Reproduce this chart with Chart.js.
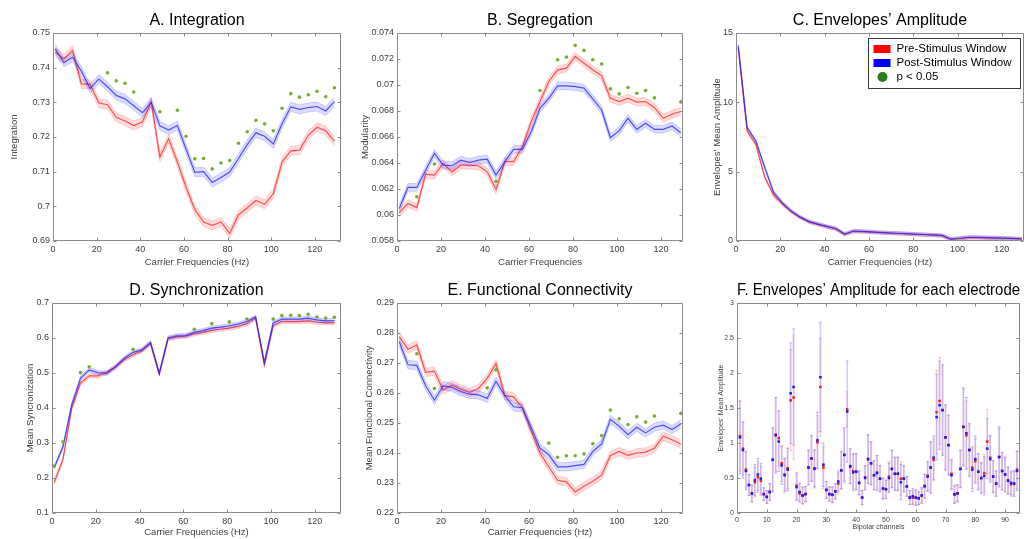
<!DOCTYPE html>
<html>
<head>
<meta charset="utf-8">
<script src="https://cdn.jsdelivr.net/npm/chart.js@4.4.1/dist/chart.umd.min.js"></script>
<style>
html, body { margin: 0; padding: 0; background: #fff; }
body { width: 1026px; height: 539px; position: relative; overflow: hidden; }
canvas { position: absolute; }
</style>
</head>
<body>
<script>
// carrier frequencies (Hz)
const freqs = [1, 5, 9, 13, 17, 21, 25, 29, 33, 37, 41, 45, 49, 53, 57, 61, 65, 69, 73, 77, 81, 85, 89, 93, 97, 101, 105, 109, 113, 117, 121, 125, 129];

// A. Integration
const intPost = [0.7454, 0.7415, 0.7430, 0.7390, 0.7340, 0.7367, 0.7345, 0.7320, 0.7310, 0.7290, 0.7270, 0.7300, 0.7232, 0.7220, 0.7233, 0.7165, 0.7098, 0.7100, 0.7069, 0.7083, 0.7099, 0.7138, 0.7178, 0.7212, 0.7202, 0.7180, 0.7238, 0.7287, 0.7280, 0.7285, 0.7288, 0.7275, 0.7302];
const intPre = [0.7445, 0.7425, 0.7450, 0.7353, 0.7352, 0.7298, 0.7293, 0.7257, 0.7246, 0.7233, 0.7243, 0.7302, 0.7142, 0.7195, 0.7128, 0.7055, 0.6990, 0.6955, 0.6945, 0.6955, 0.6922, 0.6975, 0.6995, 0.7017, 0.7006, 0.7037, 0.7128, 0.7160, 0.7162, 0.7205, 0.7228, 0.7218, 0.7188];
const intErr = 0.0013;
const intSigF = [25, 29, 33, 37, 49, 57, 61, 65, 69, 73, 77, 81, 85, 89, 93, 97, 101, 105, 109, 113, 117, 121, 125, 129];
const intSigV = [0.7385, 0.7362, 0.7355, 0.7330, 0.7273, 0.7277, 0.7202, 0.7137, 0.7138, 0.7108, 0.7125, 0.7132, 0.7182, 0.7215, 0.7248, 0.7238, 0.7218, 0.7283, 0.7325, 0.7315, 0.7322, 0.7332, 0.7316, 0.7342];

// B. Segregation
const segPost = [0.0605, 0.06212, 0.06212, 0.06345, 0.06474, 0.06384, 0.06379, 0.06422, 0.06404, 0.06422, 0.0643, 0.06307, 0.0641, 0.06505, 0.06505, 0.06641, 0.06821, 0.06898, 0.06994, 0.06994, 0.06988, 0.06976, 0.06893, 0.06808, 0.06595, 0.06649, 0.06744, 0.06659, 0.06705, 0.06659, 0.06659, 0.06685, 0.06633];
const segPre = [0.06016, 0.06088, 0.06057, 0.06314, 0.06307, 0.06397, 0.06332, 0.06384, 0.06384, 0.06379, 0.06332, 0.06196, 0.0641, 0.0641, 0.06525, 0.06718, 0.06873, 0.07027, 0.07117, 0.0713, 0.0722, 0.07168, 0.07117, 0.07071, 0.06898, 0.06873, 0.06898, 0.06868, 0.06873, 0.06827, 0.06744, 0.06775, 0.06796];
const segErr = 0.0003;
const segSigF = [9, 17, 45, 65, 73, 77, 81, 85, 89, 93, 97, 101, 105, 109, 113, 117, 129];
const segSigV = [0.0614, 0.06392, 0.0626, 0.06958, 0.07194, 0.07215, 0.07305, 0.07266, 0.07194, 0.07161, 0.0697, 0.06932, 0.06981, 0.06937, 0.06958, 0.06901, 0.0687];

// C. Envelopes' amplitude
const ampPost = [14.1, 8.2, 7.2, 5.3, 3.5, 2.75, 2.15, 1.72, 1.4, 1.22, 1.05, 0.9, 0.5, 0.72, 0.7, 0.66, 0.62, 0.59, 0.56, 0.53, 0.5, 0.47, 0.44, 0.4, 0.14, 0.2, 0.27, 0.26, 0.25, 0.23, 0.21, 0.19, 0.15];
const ampPre = [13.9, 7.95, 6.95, 4.6, 3.3, 2.65, 2.1, 1.7, 1.38, 1.2, 1.03, 0.88, 0.48, 0.7, 0.68, 0.64, 0.6, 0.57, 0.54, 0.51, 0.48, 0.45, 0.42, 0.38, 0.12, 0.18, 0.25, 0.24, 0.23, 0.21, 0.19, 0.17, 0.13];
const ampErr = 0.12;

// D. Synchronization
const synPost = [0.229, 0.289, 0.409, 0.485, 0.509, 0.501, 0.499, 0.518, 0.542, 0.559, 0.566, 0.587, 0.499, 0.6, 0.606, 0.607, 0.616, 0.621, 0.628, 0.631, 0.635, 0.64, 0.647, 0.66, 0.53, 0.643, 0.654, 0.654, 0.654, 0.657, 0.652, 0.649, 0.65];
const synPre = [0.187, 0.253, 0.399, 0.471, 0.492, 0.492, 0.502, 0.517, 0.538, 0.552, 0.563, 0.585, 0.497, 0.598, 0.603, 0.605, 0.612, 0.616, 0.622, 0.625, 0.628, 0.633, 0.641, 0.657, 0.523, 0.635, 0.647, 0.647, 0.647, 0.649, 0.645, 0.643, 0.643];
const synErr = 0.006;
const synSigF = [1, 5, 13, 17, 37, 65, 73, 81, 89, 101, 105, 109, 113, 117, 121, 125, 129];
const synSigV = [0.234, 0.303, 0.501, 0.518, 0.568, 0.625, 0.641, 0.646, 0.654, 0.654, 0.664, 0.665, 0.664, 0.668, 0.660, 0.657, 0.659];

// E. Functional connectivity
const fcPost = [0.2771, 0.2694, 0.2692, 0.2624, 0.2576, 0.2624, 0.2619, 0.2605, 0.2596, 0.2594, 0.2582, 0.2639, 0.2591, 0.2554, 0.2551, 0.2484, 0.2416, 0.2394, 0.2354, 0.2354, 0.2358, 0.2362, 0.2405, 0.243, 0.2512, 0.2489, 0.2461, 0.2486, 0.2467, 0.2486, 0.2493, 0.2478, 0.2497];
const fcPre = [0.2788, 0.2746, 0.276, 0.2669, 0.2673, 0.261, 0.2627, 0.2613, 0.2602, 0.2615, 0.2649, 0.2698, 0.2591, 0.2587, 0.2551, 0.2473, 0.24, 0.2354, 0.2309, 0.2304, 0.227, 0.2289, 0.2306, 0.2326, 0.2392, 0.2405, 0.2392, 0.24, 0.2403, 0.2416, 0.2456, 0.2444, 0.243];
const fcErr = 0.0014;
const fcSigF = [9, 17, 41, 45, 69, 73, 77, 81, 85, 89, 93, 97, 101, 105, 109, 113, 117, 129];
const fcSigV = [0.2731, 0.2615, 0.2617, 0.2677, 0.2433, 0.2386, 0.2391, 0.2391, 0.2397, 0.2431, 0.2458, 0.2543, 0.2514, 0.2495, 0.2521, 0.2503, 0.2523, 0.2532];

// F. per electrode (bipolar channels 1..94)
const channels = Array.from({length: 94}, (_, i) => i + 1);
const fPost = [1.08, 0.90, 0.60, 0.40, 0.28, 0.47, 0.55, 0.49, 0.27, 0.23,
  0.30, 0.76, 1.11, 1.02, 0.68, 0.54, 0.62, 1.71, 1.80, 0.37,
  0.30, 0.25, 0.27, 0.65, 0.78, 0.63, 1.04, 1.94, 0.69, 0.33,
  0.27, 0.26, 0.31, 0.45, 0.61, 0.83, 1.45, 0.67, 0.58, 0.59,
  0.43, 0.22, 0.50, 0.77, 0.71, 0.54, 0.57, 0.49, 0.35, 0.34,
  0.50, 0.63, 0.56, 0.56, 0.44, 0.49, 0.38, 0.22, 0.24, 0.22,
  0.21, 0.25, 0.38, 0.52, 0.65, 0.79, 1.37, 1.54, 1.47, 1.08,
  0.97, 0.54, 0.27, 0.28, 0.63, 1.23, 1.14, 0.90, 0.62, 0.77,
  0.59, 0.50, 0.53, 0.92, 0.77, 0.52, 0.42, 0.80, 0.60, 0.55,
  0.46, 0.43, 0.42, 0.60];
const fPre = [1.10, 0.92, 0.62, 0.40, 0.28, 0.44, 0.51, 0.46, 0.27, 0.23,
  0.30, 0.76, 1.12, 1.07, 0.71, 0.55, 0.64, 1.61, 1.65, 0.39,
  0.28, 0.25, 0.27, 0.65, 0.78, 0.64, 1.01, 1.80, 0.65, 0.33,
  0.27, 0.26, 0.31, 0.42, 0.61, 0.83, 1.48, 0.66, 0.60, 0.59,
  0.43, 0.22, 0.51, 0.77, 0.71, 0.54, 0.58, 0.49, 0.35, 0.34,
  0.52, 0.63, 0.56, 0.56, 0.49, 0.49, 0.38, 0.22, 0.22, 0.22,
  0.21, 0.25, 0.39, 0.53, 0.65, 0.76, 1.44, 1.60, 1.47, 1.08,
  0.97, 0.56, 0.26, 0.28, 0.63, 1.23, 1.11, 0.90, 0.65, 0.74,
  0.59, 0.50, 0.57, 1.02, 0.79, 0.52, 0.42, 0.80, 0.60, 0.55,
  0.47, 0.41, 0.42, 0.62];
const fPostErr = [0.52, 0.40, 0.27, 0.15, 0.12, 0.22, 0.23, 0.22, 0.09, 0.09,
  0.12, 0.46, 0.54, 0.43, 0.27, 0.24, 0.30, 0.72, 0.83, 0.19,
  0.13, 0.12, 0.11, 0.25, 0.33, 0.27, 0.40, 0.78, 0.31, 0.12,
  0.10, 0.11, 0.11, 0.15, 0.27, 0.39, 0.72, 0.25, 0.26, 0.26,
  0.17, 0.10, 0.17, 0.35, 0.31, 0.21, 0.25, 0.19, 0.15, 0.13,
  0.21, 0.27, 0.24, 0.24, 0.25, 0.19, 0.14, 0.10, 0.11, 0.11,
  0.09, 0.11, 0.17, 0.21, 0.37, 0.31, 0.61, 0.63, 0.65, 0.47,
  0.43, 0.21, 0.13, 0.12, 0.27, 0.56, 0.51, 0.38, 0.31, 0.33,
  0.26, 0.22, 0.27, 0.43, 0.33, 0.23, 0.18, 0.43, 0.27, 0.25,
  0.19, 0.17, 0.18, 0.28];
const fPreErr = [0.50, 0.38, 0.26, 0.15, 0.12, 0.21, 0.22, 0.21, 0.09, 0.09,
  0.12, 0.44, 0.52, 0.40, 0.26, 0.23, 0.29, 0.72, 0.88, 0.19,
  0.13, 0.12, 0.11, 0.24, 0.32, 0.26, 0.38, 0.70, 0.30, 0.12,
  0.10, 0.11, 0.11, 0.15, 0.26, 0.37, 0.25, 0.24, 0.25, 0.25,
  0.17, 0.10, 0.17, 0.34, 0.30, 0.20, 0.24, 0.18, 0.15, 0.13,
  0.21, 0.26, 0.23, 0.23, 0.24, 0.18, 0.14, 0.10, 0.10, 0.11,
  0.09, 0.11, 0.17, 0.21, 0.36, 0.30, 0.60, 0.62, 0.63, 0.45,
  0.42, 0.21, 0.12, 0.12, 0.26, 0.54, 0.49, 0.36, 0.30, 0.32,
  0.25, 0.21, 0.27, 0.46, 0.32, 0.22, 0.18, 0.41, 0.26, 0.24,
  0.19, 0.17, 0.18, 0.27];

const legendLabels = ['Pre-Stimulus Window', 'Post-Stimulus Window', 'p < 0.05'];

const FONT = '"Liberation Sans", Arial, Helvetica, sans-serif';
const RED = '255,30,30';
const BLUE = '30,30,255';
const GREEN = '#77ac30';

function pts(xs, ys) {
  return xs.map((x, i) => ({x: x, y: ys[i]}));
}

// mean line + shaded error band (upper fills down to lower)
function band(mean, err, rgb) {
  const up = mean.map(v => v + err);
  const lo = mean.map(v => v - err);
  return [
    {data: pts(freqs, mean), borderColor: 'rgba(' + rgb + ',0.75)', borderWidth: 1.2, pointRadius: 0, fill: false},
    {data: pts(freqs, up), borderColor: 'rgba(' + rgb + ',0.22)', borderWidth: 0.8, pointRadius: 0,
      backgroundColor: 'rgba(' + rgb + ',0.16)', fill: '+1'},
    {data: pts(freqs, lo), borderColor: 'rgba(' + rgb + ',0.22)', borderWidth: 0.8, pointRadius: 0, fill: false}
  ];
}

function sigDots(xs, ys) {
  return {data: pts(xs, ys), showLine: false, pointRadius: 1.8, pointBackgroundColor: GREEN,
    pointBorderWidth: 0, borderColor: GREEN};
}

// matlab style box with inward ticks
const boxPlugin = {
  id: 'matBox',
  afterDraw(chart) {
    const ctx = chart.ctx, a = chart.chartArea;
    const sx = chart.scales.x, sy = chart.scales.y;
    const l = Math.round(a.left) + 0.5, r = Math.round(a.right) - 0.5;
    const t = Math.round(a.top) + 0.5, b = Math.round(a.bottom) - 0.5;
    ctx.save();
    ctx.strokeStyle = '#8a8a8a';
    ctx.lineWidth = 1;
    ctx.beginPath();
    ctx.rect(l, t, r - l, b - t);
    sx.ticks.forEach(tk => {
      const p = Math.round(sx.getPixelForValue(tk.value)) + 0.5;
      ctx.moveTo(p, b); ctx.lineTo(p, b - 3);
      ctx.moveTo(p, t); ctx.lineTo(p, t + 3);
    });
    sy.ticks.forEach(tk => {
      const p = Math.round(sy.getPixelForValue(tk.value)) + 0.5;
      ctx.moveTo(l, p); ctx.lineTo(l + 3, p);
      ctx.moveTo(r, p); ctx.lineTo(r - 3, p);
    });
    ctx.stroke();
    ctx.restore();
  }
};
Chart.register(boxPlugin);

const legendPlugin = {
  id: 'envLegend',
  afterDraw(chart) {
    const ctx = chart.ctx, a = chart.chartArea;
    const w = 152, h = 50;
    const x0 = Math.round(a.right) - w - 3.5, y0 = Math.round(a.top) + 5.5;
    ctx.save();
    ctx.fillStyle = '#fff';
    ctx.fillRect(x0, y0, w, h);
    ctx.strokeStyle = '#3a3a3a';
    ctx.lineWidth = 1;
    ctx.strokeRect(x0, y0, w, h);
    ctx.font = '11.5px ' + FONT;
    ctx.textBaseline = 'middle';
    const rows = [y0 + 10.5, y0 + 24.5, y0 + 38.5];
    ctx.fillStyle = '#ff0000';
    ctx.fillRect(x0 + 5, rows[0] - 4, 17, 8);
    ctx.fillStyle = '#0000ff';
    ctx.fillRect(x0 + 5, rows[1] - 4, 17, 8);
    ctx.fillStyle = '#2d7a1c';
    ctx.beginPath();
    ctx.arc(x0 + 14, rows[2], 5, 0, Math.PI * 2);
    ctx.fill();
    ctx.fillStyle = '#000';
    legendLabels.forEach((txt, i) => ctx.fillText(txt, x0 + 28, rows[i]));
    ctx.restore();
  }
};

const numFmt = v => String(+Number(v).toFixed(4));

function makeChart(box, o) {
  const tsz = o.small ? 7 : 9.5;
  const half = tsz * 0.6;
  const cl = Math.round(box.ytx - 2 - half);
  const ct = box.T - 33;
  const cb = Math.round(box.xty + 2 + half);
  const cv = document.createElement('canvas');
  cv.width = box.R - cl + 2;
  cv.height = cb - ct;
  cv.style.left = cl + 'px';
  cv.style.top = ct + 'px';
  document.body.appendChild(cv);
  const yw = box.L - cl, xh = cb - box.B;
  const tickFont = {family: FONT, size: o.small ? 7 : 9};
  const axTitleFont = {family: FONT, size: tsz};

  return new Chart(cv, {
    type: 'line',
    data: {datasets: o.datasets},
    plugins: o.plugins || [],
    options: {
      responsive: false,
      animation: false,
      events: [],
      layout: {padding: {right: 2}},
      elements: {line: {tension: 0}},
      plugins: {
        legend: {display: false},
        tooltip: {enabled: false},
        title: {display: true, text: o.title, fullSize: false, color: '#000',
          font: {family: FONT, size: 16, weight: 'normal'}, padding: {top: 11, bottom: 2.8}}
      },
      scales: {
        x: {
          type: 'linear', min: 0, max: o.xmax, offset: false,
          grid: {display: false, drawTicks: false}, border: {display: false},
          ticks: {stepSize: o.xstep, includeBounds: false, maxRotation: 0, autoSkip: false,
            padding: 3, color: '#404040', font: tickFont},
          title: {display: true, text: o.xtitle, color: '#404040', font: axTitleFont, padding: {top: 0, bottom: 2}},
          afterFit: s => { s.height = xh; }
        },
        y: {
          type: 'linear', min: o.ymin, max: o.ymax,
          grid: {display: false, drawTicks: false}, border: {display: false},
          ticks: {stepSize: o.ystep, includeBounds: false, padding: 3, color: '#404040', font: tickFont,
            callback: numFmt},
          title: {display: true, text: o.ytitle, color: '#404040', font: axTitleFont, padding: {top: 2, bottom: 0}},
          afterFit: s => { s.width = yw; }
        }
      }
    }
  });
}

// panel frames (plot area edges and axis title centres, page pixels)
const frames = {
  A: {L: 53, R: 343, T: 33, B: 241, ytx: 15, xty: 262},
  B: {L: 397, R: 685, T: 33, B: 241, ytx: 366, xty: 262},
  C: {L: 736, R: 1024, T: 33, B: 241, ytx: 718, xty: 262},
  D: {L: 52, R: 343, T: 303, B: 513, ytx: 31, xty: 532},
  E: {L: 397, R: 685, T: 303, B: 513, ytx: 370, xty: 532},
  F: {L: 737, R: 1023, T: 303, B: 513, ytx: 721, xty: 527}
};

makeChart(frames.A, {
  title: 'A. Integration', xtitle: 'Carrier Frequencies (Hz)', ytitle: 'Integration',
  xmax: 132, xstep: 20, ymin: 0.69, ymax: 0.75, ystep: 0.01,
  datasets: [sigDots(intSigF, intSigV), ...band(intPost, intErr, BLUE), ...band(intPre, intErr, RED)]
});

makeChart(frames.B, {
  title: 'B. Segregation', xtitle: 'Carrier Frequencies', ytitle: 'Modularity',
  xmax: 130, xstep: 20, ymin: 0.058, ymax: 0.074, ystep: 0.002,
  datasets: [sigDots(segSigF, segSigV), ...band(segPost, segErr, BLUE), ...band(segPre, segErr, RED)]
});

makeChart(frames.C, {
  title: 'C. Envelopes\u2019 Amplitude', xtitle: 'Carrier Frequencies (Hz)', ytitle: 'Envelopes\u2019 Mean Amplitude',
  xmax: 130, xstep: 20, ymin: 0, ymax: 15, ystep: 5,
  datasets: [...band(ampPost, ampErr, BLUE), ...band(ampPre, ampErr, RED)],
  plugins: [legendPlugin]
});

makeChart(frames.D, {
  title: 'D. Synchronization', xtitle: 'Carrier Frequencies (Hz)', ytitle: 'Mean Syncronization',
  xmax: 132, xstep: 20, ymin: 0.1, ymax: 0.7, ystep: 0.1,
  datasets: [sigDots(synSigF, synSigV), ...band(synPost, synErr, BLUE), ...band(synPre, synErr, RED)]
});

makeChart(frames.E, {
  title: 'E. Functional Connectivity', xtitle: 'Carrier Frequencies (Hz)', ytitle: 'Mean Functional Connectivity',
  xmax: 130, xstep: 20, ymin: 0.22, ymax: 0.29, ystep: 0.01,
  datasets: [sigDots(fcSigF, fcSigV), ...band(fcPost, fcErr, BLUE), ...band(fcPre, fcErr, RED)]
});

// F: points with error bars (floating bars + caps)
function errBars(mean, err, rgba) {
  return {type: 'bar', data: channels.map((c, i) => ({x: c, y: [mean[i] - err[i], mean[i] + err[i]]})),
    backgroundColor: rgba, borderWidth: 0, barThickness: 1, grouped: false};
}
function caps(mean, err, rgba) {
  const ends = [];
  channels.forEach((c, i) => {
    ends.push({x: c, y: mean[i] - err[i]});
    ends.push({x: c, y: mean[i] + err[i]});
  });
  return {data: ends, showLine: false, pointStyle: 'line', pointRadius: 1.5, borderColor: rgba, borderWidth: 1};
}
function dots(mean, col) {
  return {data: pts(channels, mean), showLine: false, pointStyle: 'rect', pointRadius: 1.8,
    pointBackgroundColor: col, pointBorderWidth: 0, borderColor: col};
}

makeChart(frames.F, {
  small: true,
  title: 'F. Envelopes\u2019 Amplitude for each electrode', xtitle: 'Bipolar channels', ytitle: 'Envelopes\u2019 Mean Amplitude',
  xmax: 95, xstep: 10, ymin: 0, ymax: 3, ystep: 0.5,
  datasets: [
    dots(fPost, '#1a1aff'),
    dots(fPre, '#ff1a1a'),
    caps(fPost, fPostErr, 'rgba(120,120,255,0.45)'),
    errBars(fPost, fPostErr, 'rgba(120,120,255,0.35)'),
    caps(fPre, fPreErr, 'rgba(255,120,120,0.4)'),
    errBars(fPre, fPreErr, 'rgba(255,120,120,0.3)')
  ]
});
</script>
</body>
</html>
